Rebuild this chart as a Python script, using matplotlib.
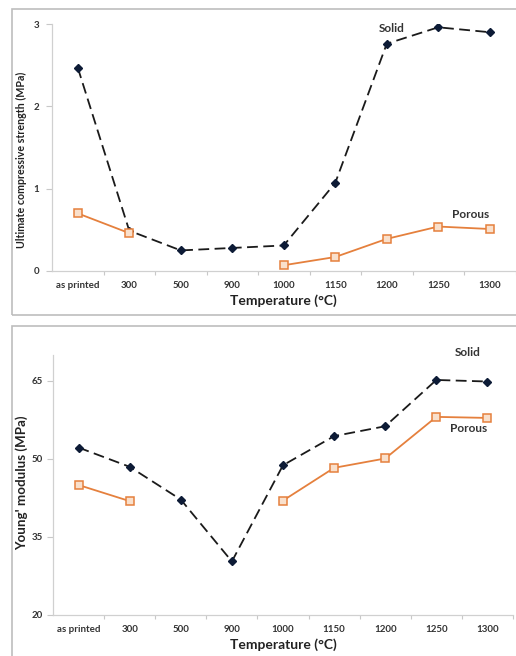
import matplotlib
matplotlib.use("Agg")
import matplotlib.pyplot as plt
import numpy as np
from matplotlib.patches import Rectangle

categories = ["as printed", "300", "500", "900", "1000", "1150", "1200", "1250", "1300"]
ucs_solid = [2.47, 0.49, 0.25, 0.28, 0.31, 1.07, 2.76, 2.96, 2.90]
ucs_porous = [0.70, 0.46, np.nan, np.nan, 0.07, 0.17, 0.39, 0.54, 0.51]
ym_solid = [52.2, 48.5, 42.2, 30.3, 48.8, 54.4, 56.3, 65.2, 64.9]
ym_porous = [45.0, 41.9, np.nan, np.nan, 42.0, 48.3, 50.1, 58.1, 57.9]
ucs_ticks = [0, 1, 2, 3]
ym_ticks = [20, 35, 50, 65]

plt.rcParams['font.family'] = ['Lato', 'DejaVu Sans']

W, H = 516, 656
fig = plt.figure(figsize=(W / 100, H / 100), dpi=100)

frame_col = "#bdbdbd"
fig.patches.append(Rectangle((12 / W, 1 - 315 / H), 510 / W, (315 - 9) / H,
                             transform=fig.transFigure, fill=False,
                             edgecolor=frame_col, linewidth=1.2))
fig.patches.append(Rectangle((12 / W, -0.05), 510 / W, 1 - 326 / H + 0.05,
                             transform=fig.transFigure, fill=False,
                             edgecolor=frame_col, linewidth=1.2))

solid_col = "#0d1b36"
line_col = "#1a1a1a"
orange = "#e5803d"
orange_fill = "#f9e0cc"

def style_axes(ax, ylim, yticks, ylabel, ylabel_size, ypad):
    x = np.arange(len(categories))
    ax.set_xlim(-0.5, len(categories) - 0.5)
    ax.set_ylim(*ylim)
    ax.set_yticks(yticks)
    ax.set_xticks(x)
    ax.set_xticklabels(categories, fontsize=7, fontweight='bold', color='#333333')
    ax.tick_params(axis='x', length=0, pad=7)
    ax.set_xticks(np.arange(len(categories)) + 0.5, minor=True)
    ax.tick_params(axis='x', which='minor', length=3, color='#c8c8c8', width=0.8)
    ax.tick_params(axis='y', length=4, color='#c8c8c8', width=0.8,
                   labelsize=7, labelcolor='#333333', pad=ypad)
    for lab in ax.get_yticklabels():
        lab.set_fontweight('bold')
    for s in ['top', 'right']:
        ax.spines[s].set_visible(False)
    for s in ['left', 'bottom']:
        ax.spines[s].set_color('#d0d0d0')
        ax.spines[s].set_linewidth(0.9)
    ax.set_xlabel("Temperature (°C)", fontsize=10, fontweight='bold', labelpad=3,
                  color='#222222')
    ax.set_ylabel(ylabel, fontsize=ylabel_size, fontweight='bold', color='#222222')

def draw(ax, solid, porous):
    x = np.arange(len(categories))
    ax.plot(x, solid, linestyle=(0, (6, 3)), color=line_col, linewidth=1.3,
            marker='D', markersize=4.2, markerfacecolor=solid_col,
            markeredgecolor=solid_col, zorder=3)
    ax.plot(x, porous, linestyle='-', color=orange, linewidth=1.3,
            marker='s', markersize=6, markerfacecolor=orange_fill,
            markeredgecolor=orange, markeredgewidth=1.1, zorder=4)

# Top panel
ax1 = fig.add_axes([52 / W, 1 - 271 / H, 463.5 / W, (271 - 24) / H])
draw(ax1, ucs_solid, ucs_porous)
style_axes(ax1, (0, 3), ucs_ticks, "Ultimate compressive strength (MPa)", 7.7, 5)
ax1.text(6.1, 2.94, "Solid", fontsize=8.5, fontweight='bold', color='#333333',
         ha='center', va='center', clip_on=False)
ax1.text(7.62, 0.69, "Porous", fontsize=8.5, fontweight='bold', color='#333333',
         ha='center', va='center', clip_on=False)
ax1.yaxis.set_label_coords(-0.055, 0.45)

# Bottom panel
ax2 = fig.add_axes([53 / W, 1 - 615 / H, 460 / W, (615 - 355) / H])
draw(ax2, ym_solid, ym_porous)
style_axes(ax2, (20, 70), ym_ticks, "Young' modulus (MPa)", 9.6, 3.5)
ax2.text(7.62, 70.4, "Solid", fontsize=8.5, fontweight='bold', color='#333333',
         ha='center', va='center', clip_on=False)
ax2.text(7.64, 55.8, "Porous", fontsize=8.5, fontweight='bold', color='#333333',
         ha='center', va='center', clip_on=False)
ax2.yaxis.set_label_coords(-0.055, 0.51)

fig.savefig("out.png", dpi=100)
